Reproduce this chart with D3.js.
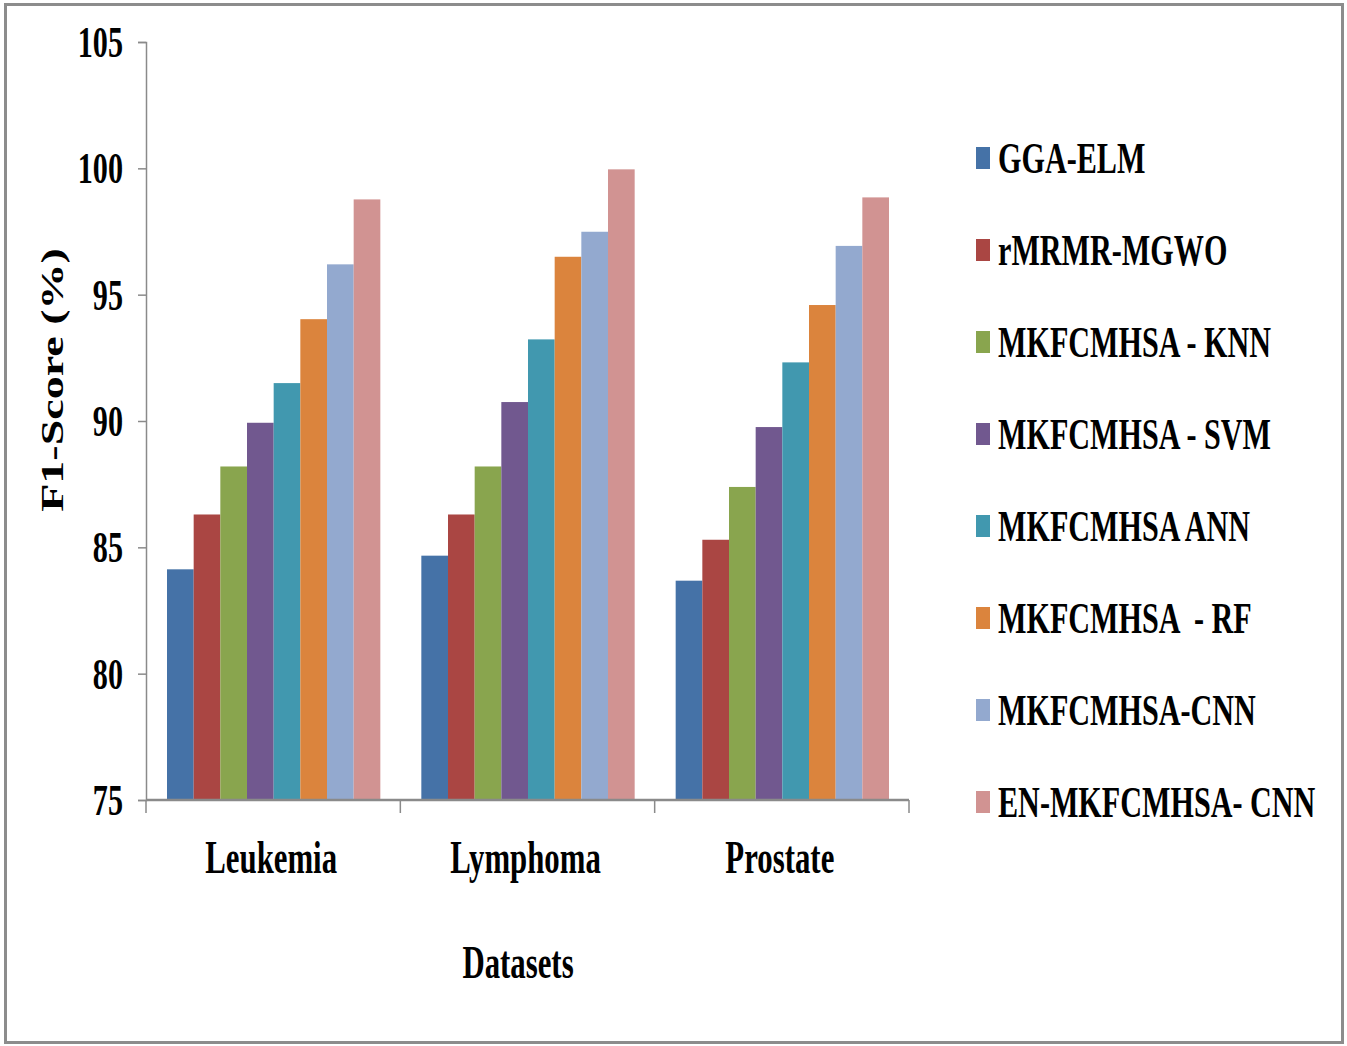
<!DOCTYPE html>
<html>
<head>
<meta charset="utf-8">
<script src="https://cdn.jsdelivr.net/npm/d3@7"></script>
<style>
  html, body { margin: 0; padding: 0; background: #ffffff; }
  svg { display: block; }
  text { font-family: "Liberation Serif", "Times New Roman", serif; font-weight: bold; fill: #000; }
</style>
</head>
<body>
<svg id="chart" width="1347" height="1046"></svg>
<script>
// Datasets on the x axis
const datasets = ["Leukemia", "Lymphoma", "Prostate"];

// Methods (one bar per method inside each dataset group)
const methods = [
  "GGA-ELM",
  "rMRMR-MGWO",
  "MKFCMHSA - KNN",
  "MKFCMHSA - SVM",
  "MKFCMHSA ANN",
  "MKFCMHSA  - RF",
  "MKFCMHSA-CNN",
  "EN-MKFCMHSA- CNN"
];

// F1-score (%) per method, ordered as datasets
const ggaElm      = [84.13, 84.67, 83.68];
const rmrmrMgwo   = [86.30, 86.30, 85.30];
const mkfKnn      = [88.20, 88.20, 87.39];
const mkfSvm      = [89.93, 90.75, 89.76];
const mkfAnn      = [91.50, 93.23, 92.32];
const mkfRf       = [94.03, 96.50, 94.59];
const mkfCnn      = [96.20, 97.49, 96.93];
const enMkfCnn    = [98.77, 99.96, 98.85];

const seriesValues = [ggaElm, rmrmrMgwo, mkfKnn, mkfSvm, mkfAnn, mkfRf, mkfCnn, enMkfCnn];

const yTicks = [75, 80, 85, 90, 95, 100, 105];

const colors = ["#4572A7", "#AA4643", "#89A54E", "#71588F", "#4198AF", "#DB843D", "#93A9CF", "#D19392"];

// ---------------------------------------------------------------
const svg = d3.select("#chart");
const squeeze = 0.67;   // narrow, tall lettering

// outer frame
svg.append("rect")
  .attr("x", 5.5).attr("y", 4.5)
  .attr("width", 1337).attr("height", 1038)
  .attr("fill", "none")
  .attr("stroke", "#8c8c8c")
  .attr("stroke-width", 3);

const plot = { left: 146, right: 909, top: 42, bottom: 800 };

const x0 = d3.scaleBand()
  .domain(datasets)
  .range([plot.left, plot.right])
  .padding(0);

const x1 = d3.scaleBand()
  .domain(d3.range(methods.length))
  .range([21, x0.bandwidth() - 20])
  .padding(0);

const y = d3.scaleLinear()
  .domain([75, 105])
  .range([plot.bottom, plot.top]);

function label(parent, x, yPos, str, anchor, size) {
  return parent.append("text")
    .attr("transform", `translate(${x},${yPos}) scale(${squeeze},1)`)
    .attr("text-anchor", anchor)
    .attr("font-size", size)
    .text(str);
}

// bars
const groups = svg.append("g").selectAll("g")
  .data(datasets)
  .join("g")
  .attr("transform", d => `translate(${x0(d)},0)`);

groups.selectAll("rect")
  .data((d, di) => seriesValues.map((vals, mi) => ({ mi, v: vals[di] })))
  .join("rect")
  .attr("x", d => x1(d.mi))
  .attr("width", x1.bandwidth())
  .attr("y", d => y(d.v))
  .attr("height", d => y(75) - y(d.v))
  .attr("fill", d => colors[d.mi]);

// y axis
const yAxis = d3.axisLeft(y).tickValues(yTicks).tickSize(8).tickFormat("");
const yg = svg.append("g")
  .attr("transform", `translate(${plot.left},0)`)
  .call(yAxis);
yg.select(".domain").attr("stroke", "#8a8a8a").attr("stroke-width", 1.5);
yg.selectAll(".tick line").attr("stroke", "#8a8a8a").attr("stroke-width", 1.5);

yTicks.forEach(t => {
  label(svg, 123, y(t) + 15, String(t), "end", 45);
});

// x axis
const xg = svg.append("g");
xg.append("line")
  .attr("x1", plot.left).attr("x2", plot.right)
  .attr("y1", plot.bottom).attr("y2", plot.bottom)
  .attr("stroke", "#8a8a8a").attr("stroke-width", 2.5);
const xTickPos = datasets.map(d => x0(d)).concat([x0(datasets[datasets.length - 1]) + x0.bandwidth()]);
xg.selectAll("line.xt")
  .data(xTickPos)
  .join("line")
  .attr("class", "xt")
  .attr("x1", d => d).attr("x2", d => d)
  .attr("y1", plot.bottom).attr("y2", plot.bottom + 13)
  .attr("stroke", "#8a8a8a").attr("stroke-width", 1.5);

datasets.forEach(d => {
  label(svg, x0(d) + x0.bandwidth() / 2 - 2, 873, d, "middle", 46);
});

// axis titles
label(svg, 518, 978, "Datasets", "middle", 46);

svg.append("text")
  .attr("transform", `translate(63,380) rotate(-90) scale(1,${squeeze})`)
  .attr("text-anchor", "middle")
  .attr("font-size", 46)
  .text("F1-Score (%)");

// legend
const legend = svg.append("g");
methods.forEach((m, i) => {
  const cy = 158 + i * 92;
  legend.append("rect")
    .attr("x", 976).attr("y", cy - 11)
    .attr("width", 14).attr("height", 22)
    .attr("fill", colors[i]);
  label(legend, 998, cy + 15, m, "start", 45).attr("xml:space", "preserve").style("white-space", "pre");
});
</script>
</body>
</html>
